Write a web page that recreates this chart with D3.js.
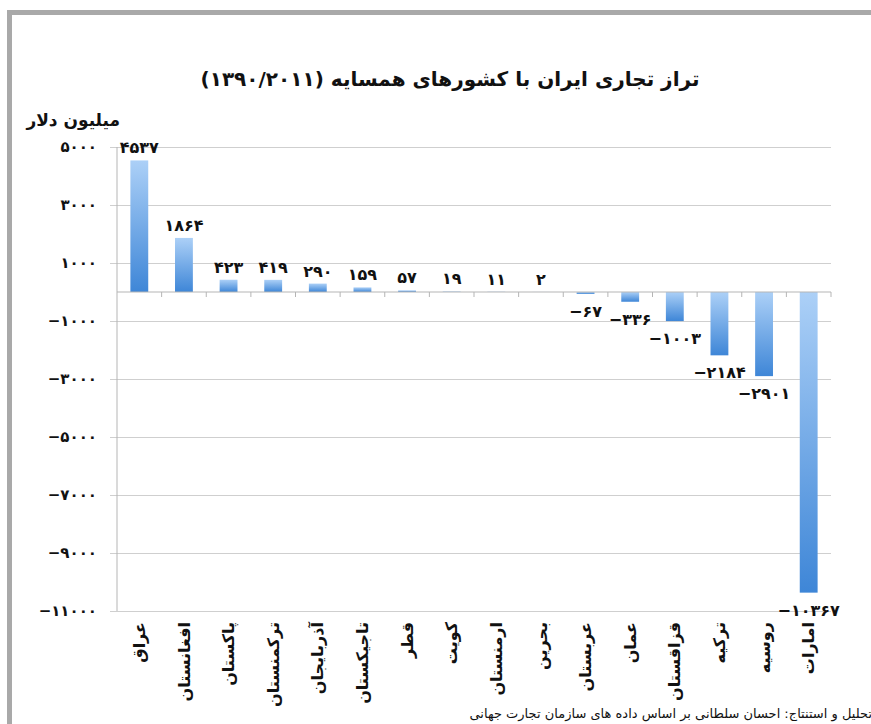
<!DOCTYPE html>
<html>
<head>
<meta charset="utf-8">
<script src="https://cdn.jsdelivr.net/npm/d3@7"></script>
<style>
	body { margin: 0; background: #fff; }
	svg text { font-family: "DejaVu Sans", sans-serif; fill: #111; }
	.grid line { stroke: #cfcfcf; }
	.axisLine { stroke: #b5b5b5; }
</style>
</head>
<body>
<div id="chart"></div>
<script>
var countries = ["عراق", "افغانستان", "پاکستان", "ترکمنستان", "آذربایجان", "تاجیکستان", "قطر", "کویت",
	"ارمنستان", "بحرین", "عربستان", "عمان", "قزاقستان", "ترکیه", "روسیه", "امارات"]
var balance = [4537, 1864, 423, 419, 290, 159, 57, 19, 11, 2, -67, -336, -1003, -2184, -2901, -10367]
var yTicks = [5000, 3000, 1000, -1000, -3000, -5000, -7000, -9000, -11000]

var TITLE = "تراز تجاری ایران با کشورهای همسایه (۱۳۹۰/۲۰۱۱)"
var UNIT = "میلیون دلار"
var SOURCE = "تحلیل و استنتاج: احسان سلطانی بر اساس داده های سازمان تجارت جهانی"

var WIDTH = 871, HEIGHT = 724
var PLOT_LEFT = 117, PLOT_RIGHT = 831, PLOT_TOP = 147, PLOT_BOTTOM = 611

// persian digits, minus sign in front
function FA(n){
	var digits = "۰۱۲۳۴۵۶۷۸۹"
	var s = String(Math.abs(n)).replace(/[0-9]/g, function(c){ return digits[+c] })
	return (n < 0 ? "\u2212" : "") + s
}

var svg = d3.select("#chart").append("svg")
	.attr("width", WIDTH)
	.attr("height", HEIGHT)

// gray frame, top and left only
svg.append("rect").attr("x", 7).attr("y", 10).attr("width", WIDTH - 7).attr("height", 5).attr("fill", "#a9a9a9")
svg.append("rect").attr("x", 7).attr("y", 10).attr("width", 5).attr("height", HEIGHT - 10).attr("fill", "#a9a9a9")

var defs = svg.append("defs")
var grad = defs.append("linearGradient")
	.attr("id", "barGrad")
	.attr("x1", 0).attr("y1", 0).attr("x2", 0).attr("y2", 1)
grad.append("stop").attr("offset", "0%").attr("stop-color", "#acd0f7")
grad.append("stop").attr("offset", "100%").attr("stop-color", "#3e86d7")

var x = d3.scaleBand()
	.domain(countries)
	.range([PLOT_LEFT, PLOT_RIGHT])
	.paddingInner(0.6)
	.paddingOuter(0.3)

var xEdges = d3.scaleBand()
	.domain(countries)
	.range([PLOT_LEFT, PLOT_RIGHT])

var y = d3.scaleLinear()
	.domain([-11000, 5000])
	.range([PLOT_BOTTOM, PLOT_TOP])

// gridlines + y labels
var grid = svg.append("g")
	.attr("class", "grid")
	.attr("transform", "translate(" + PLOT_LEFT + ",0)")
	.call(d3.axisLeft(y)
		.tickValues(yTicks)
		.tickSize(-(PLOT_RIGHT - PLOT_LEFT))
		.tickFormat(""))
grid.select(".domain").remove()

svg.append("g")
	.attr("class", "grid")
	.attr("transform", "translate(" + PLOT_LEFT + ",0)")
	.call(d3.axisLeft(y).tickValues(yTicks).tickSize(7).tickFormat(""))
	.select(".domain").remove()

svg.append("line")
	.attr("class", "axisLine")
	.attr("x1", PLOT_LEFT).attr("x2", PLOT_LEFT)
	.attr("y1", PLOT_TOP).attr("y2", PLOT_BOTTOM)

svg.selectAll(".yLabel")
	.data(yTicks)
	.enter()
	.append("text")
	.attr("class", "yLabel")
	.attr("x", 97)
	.attr("y", function(d){ return y(d) })
	.attr("dy", "0.35em")
	.attr("text-anchor", "end")
	.style("font-size", "15px")
	.style("font-weight", "bold")
	.text(function(d){ return FA(d) })

// bars
svg.selectAll(".bar")
	.data(balance)
	.enter()
	.append("rect")
	.attr("class", "bar")
	.attr("x", function(d, i){ return x(countries[i]) })
	.attr("width", x.bandwidth())
	.attr("y", function(d){ return y(Math.max(0, d)) })
	.attr("height", function(d){ return Math.abs(y(d) - y(0)) })
	.attr("fill", "url(#barGrad)")

// zero axis with ticks between categories
svg.append("line")
	.attr("class", "axisLine")
	.attr("x1", PLOT_LEFT).attr("x2", PLOT_RIGHT)
	.attr("y1", y(0)).attr("y2", y(0))

svg.selectAll(".xTick")
	.data(countries)
	.enter()
	.append("line")
	.attr("class", "axisLine xTick")
	.attr("x1", function(d){ return xEdges(d) + xEdges.bandwidth() })
	.attr("x2", function(d){ return xEdges(d) + xEdges.bandwidth() })
	.attr("y1", y(0))
	.attr("y2", y(0) + 5)

// value labels
svg.selectAll(".valLabel")
	.data(balance)
	.enter()
	.append("text")
	.attr("class", "valLabel")
	.attr("x", function(d, i){ return x(countries[i]) + x.bandwidth() / 2 })
	.attr("y", function(d){ return d >= 0 ? y(d) - 7 : y(d) + 23 })
	.attr("text-anchor", "middle")
	.style("font-size", "16px")
	.style("font-weight", "bold")
	.text(function(d){ return FA(d) })

// category labels, rotated
svg.selectAll(".catLabel")
	.data(countries)
	.enter()
	.append("text")
	.attr("class", "catLabel")
	.attr("transform", function(d){
		return "translate(" + (x(d) + x.bandwidth() / 2) + "," + (PLOT_BOTTOM + 11) + ") rotate(-90)"
	})
	.attr("dy", "0.35em")
	.attr("text-anchor", "end")
	.style("font-size", "16px")
	.style("font-weight", "bold")
	.text(function(d){ return d })

svg.append("text")
	.attr("x", 450)
	.attr("y", 86)
	.attr("text-anchor", "middle")
	.attr("direction", "rtl")
	.style("font-size", "20px")
	.style("font-weight", "bold")
	.text(TITLE)

svg.append("text")
	.attr("x", 120)
	.attr("y", 126)
	.attr("text-anchor", "end")
	.style("font-size", "17px")
	.style("font-weight", "bold")
	.text(UNIT)

svg.append("text")
	.attr("x", 872)
	.attr("y", 718)
	.attr("text-anchor", "end")
	.style("font-size", "13px")
	.text(SOURCE)
</script>
</body>
</html>
